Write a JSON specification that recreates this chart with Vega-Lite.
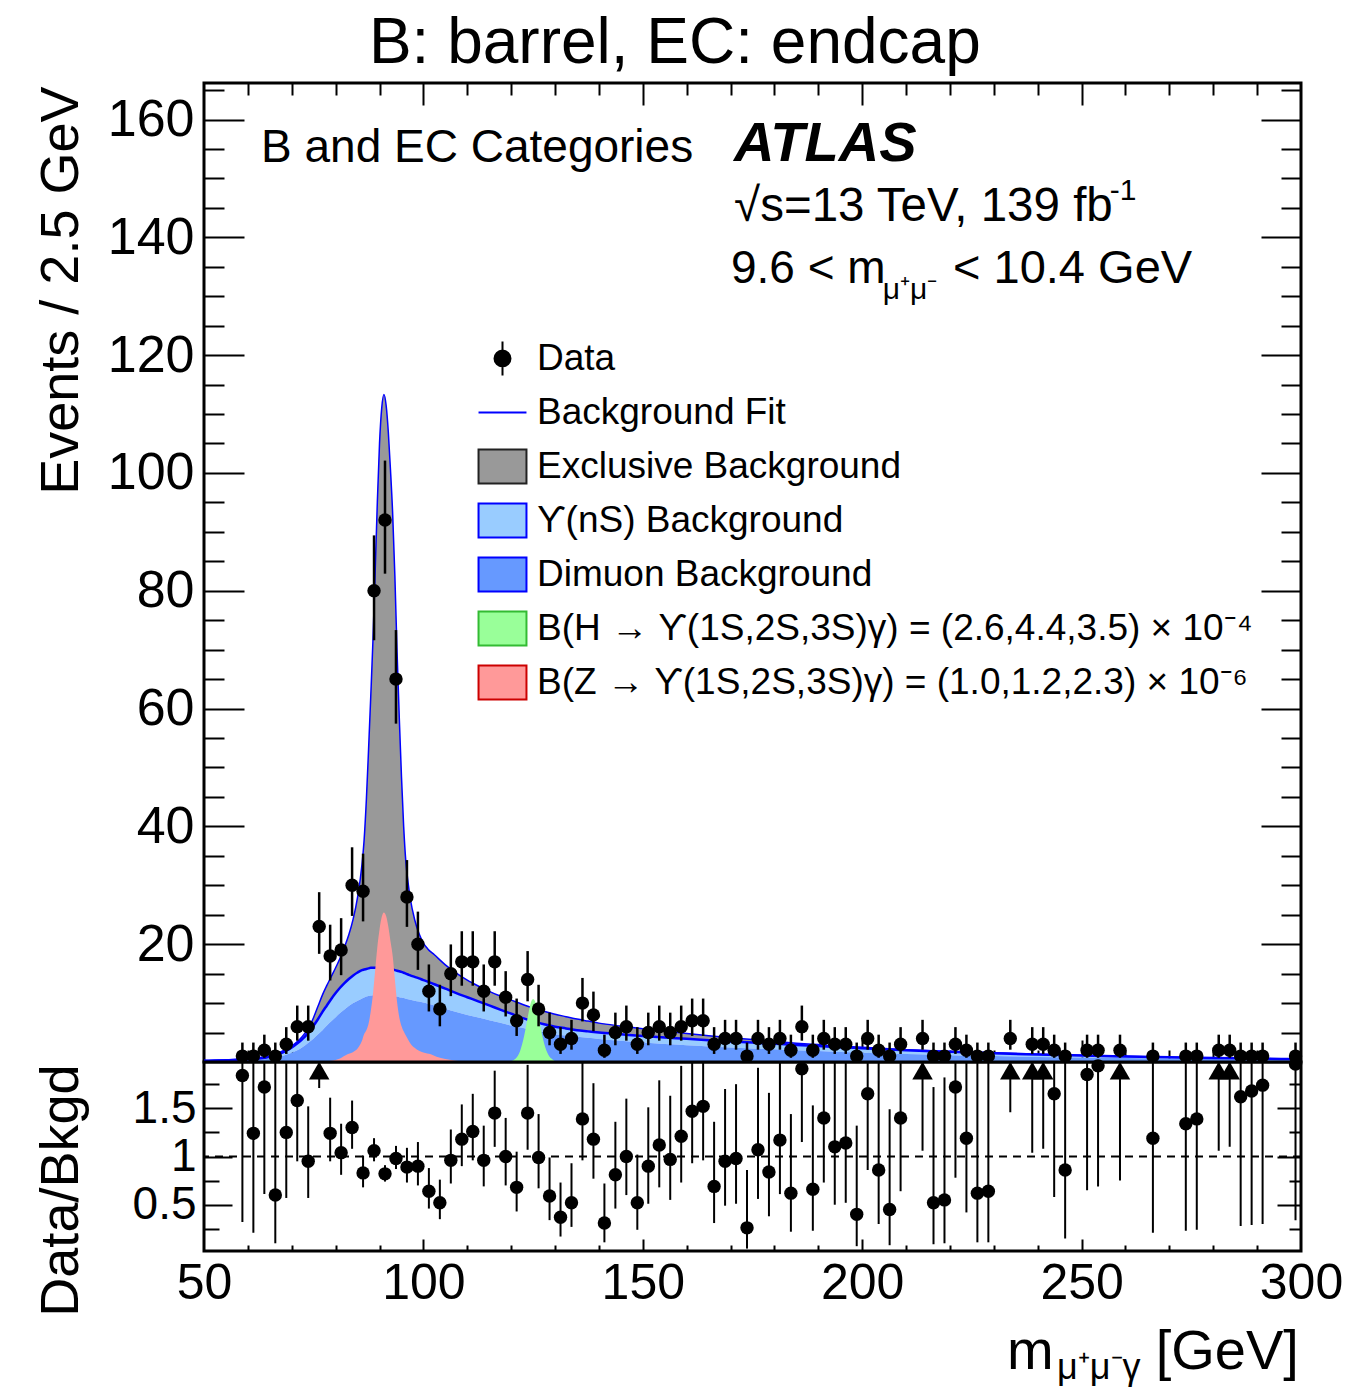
{
  "$schema": "https://vega.github.io/schema/vega-lite/v6.json",
  "background": "white",
  "padding": {"left": 32, "top": 10, "right": 4, "bottom": 0},
  "spacing": 0,
  "bounds": "flush",
  "datasets": {
    "curve": [
      {"m": 50, "total": 0.25, "nonex": 0.2, "dimu": 0.14},
      {"m": 52.5, "total": 0.3, "nonex": 0.24, "dimu": 0.17},
      {"m": 55, "total": 0.36, "nonex": 0.29, "dimu": 0.2},
      {"m": 57.5, "total": 0.45, "nonex": 0.36, "dimu": 0.25},
      {"m": 60, "total": 0.56, "nonex": 0.45, "dimu": 0.31},
      {"m": 62.5, "total": 0.72, "nonex": 0.6, "dimu": 0.41},
      {"m": 65, "total": 1.05, "nonex": 0.9, "dimu": 0.6},
      {"m": 66, "total": 1.3, "nonex": 1.1, "dimu": 0.72},
      {"m": 67, "total": 1.55, "nonex": 1.35, "dimu": 0.88},
      {"m": 68, "total": 1.9, "nonex": 1.65, "dimu": 1.07},
      {"m": 69, "total": 2.2, "nonex": 2.0, "dimu": 1.3},
      {"m": 70, "total": 2.7, "nonex": 2.45, "dimu": 1.58},
      {"m": 71, "total": 3.3, "nonex": 3.0, "dimu": 1.9},
      {"m": 72, "total": 4.0, "nonex": 3.6, "dimu": 2.3},
      {"m": 73, "total": 4.9, "nonex": 4.3, "dimu": 2.8},
      {"m": 74, "total": 6.0, "nonex": 5.2, "dimu": 3.4},
      {"m": 75, "total": 7.6, "nonex": 6.2, "dimu": 4.0},
      {"m": 76, "total": 9.5, "nonex": 7.3, "dimu": 4.7},
      {"m": 77, "total": 11.4, "nonex": 8.5, "dimu": 5.4},
      {"m": 78, "total": 13.0, "nonex": 9.6, "dimu": 6.2},
      {"m": 79, "total": 14.5, "nonex": 10.7, "dimu": 6.9},
      {"m": 80, "total": 16.0, "nonex": 11.7, "dimu": 7.6},
      {"m": 81, "total": 17.6, "nonex": 12.6, "dimu": 8.3},
      {"m": 82, "total": 19.5, "nonex": 13.4, "dimu": 8.9},
      {"m": 83, "total": 21.6, "nonex": 14.1, "dimu": 9.5},
      {"m": 84, "total": 24.3, "nonex": 14.7, "dimu": 10.0},
      {"m": 85, "total": 28.0, "nonex": 15.2, "dimu": 10.4},
      {"m": 86, "total": 33.5, "nonex": 15.6, "dimu": 10.8},
      {"m": 86.5, "total": 37.8, "nonex": 15.7, "dimu": 10.95},
      {"m": 87, "total": 44.5, "nonex": 15.8, "dimu": 11.1},
      {"m": 87.5, "total": 53.0, "nonex": 15.9, "dimu": 11.2},
      {"m": 88, "total": 62.0, "nonex": 16.0, "dimu": 11.3},
      {"m": 88.5, "total": 71.5, "nonex": 16.0, "dimu": 11.35},
      {"m": 89, "total": 83.0, "nonex": 16.0, "dimu": 11.4},
      {"m": 89.5, "total": 95.0, "nonex": 16.0, "dimu": 11.4},
      {"m": 90, "total": 105.0, "nonex": 16.0, "dimu": 11.4},
      {"m": 90.5, "total": 111.0, "nonex": 16.0, "dimu": 11.4},
      {"m": 91, "total": 113.3, "nonex": 15.95, "dimu": 11.4},
      {"m": 91.5, "total": 111.5, "nonex": 15.9, "dimu": 11.35},
      {"m": 92, "total": 107.0, "nonex": 15.85, "dimu": 11.3},
      {"m": 92.5, "total": 100.5, "nonex": 15.8, "dimu": 11.25},
      {"m": 93, "total": 93.0, "nonex": 15.7, "dimu": 11.2},
      {"m": 93.5, "total": 82.5, "nonex": 15.6, "dimu": 11.15},
      {"m": 94, "total": 69.5, "nonex": 15.5, "dimu": 11.1},
      {"m": 94.5, "total": 58.5, "nonex": 15.4, "dimu": 11.0},
      {"m": 95, "total": 48.5, "nonex": 15.3, "dimu": 10.95},
      {"m": 95.5, "total": 40.0, "nonex": 15.15, "dimu": 10.85},
      {"m": 96, "total": 34.0, "nonex": 15.0, "dimu": 10.75},
      {"m": 96.5, "total": 30.5, "nonex": 14.85, "dimu": 10.65},
      {"m": 97, "total": 27.8, "nonex": 14.7, "dimu": 10.55},
      {"m": 98, "total": 24.2, "nonex": 14.45, "dimu": 10.4},
      {"m": 99, "total": 21.8, "nonex": 14.2, "dimu": 10.25},
      {"m": 100, "total": 20.2, "nonex": 13.9, "dimu": 10.1},
      {"m": 101, "total": 19.2, "nonex": 13.65, "dimu": 9.9},
      {"m": 102.5, "total": 18.2, "nonex": 13.2, "dimu": 9.6},
      {"m": 105, "total": 16.5, "nonex": 12.45, "dimu": 9.05},
      {"m": 107.5, "total": 15.1, "nonex": 11.7, "dimu": 8.5},
      {"m": 110, "total": 13.9, "nonex": 11.0, "dimu": 8.0},
      {"m": 112.5, "total": 12.9, "nonex": 10.3, "dimu": 7.55},
      {"m": 115, "total": 12.0, "nonex": 9.6, "dimu": 7.1},
      {"m": 117.5, "total": 11.2, "nonex": 8.9, "dimu": 6.65},
      {"m": 120, "total": 10.5, "nonex": 8.2, "dimu": 6.2},
      {"m": 122.5, "total": 9.8, "nonex": 7.5, "dimu": 5.8},
      {"m": 125, "total": 9.15, "nonex": 6.9, "dimu": 5.4},
      {"m": 127.5, "total": 8.6, "nonex": 6.4, "dimu": 5.05},
      {"m": 130, "total": 8.1, "nonex": 6.0, "dimu": 4.7},
      {"m": 132.5, "total": 7.7, "nonex": 5.7, "dimu": 4.5},
      {"m": 135, "total": 7.3, "nonex": 5.4, "dimu": 4.3},
      {"m": 137.5, "total": 6.95, "nonex": 5.2, "dimu": 4.1},
      {"m": 140, "total": 6.6, "nonex": 5.0, "dimu": 3.9},
      {"m": 145, "total": 6.1, "nonex": 4.7, "dimu": 3.6},
      {"m": 150, "total": 5.65, "nonex": 4.4, "dimu": 3.3},
      {"m": 155, "total": 5.25, "nonex": 4.15, "dimu": 3.05},
      {"m": 160, "total": 4.85, "nonex": 3.95, "dimu": 2.85},
      {"m": 165, "total": 4.45, "nonex": 3.7, "dimu": 2.65},
      {"m": 170, "total": 4.1, "nonex": 3.5, "dimu": 2.45},
      {"m": 175, "total": 3.8, "nonex": 3.3, "dimu": 2.3},
      {"m": 180, "total": 3.5, "nonex": 3.1, "dimu": 2.15},
      {"m": 185, "total": 3.2, "nonex": 2.9, "dimu": 2.0},
      {"m": 190, "total": 2.95, "nonex": 2.7, "dimu": 1.85},
      {"m": 195, "total": 2.7, "nonex": 2.5, "dimu": 1.7},
      {"m": 200, "total": 2.5, "nonex": 2.35, "dimu": 1.58},
      {"m": 210, "total": 2.1, "nonex": 2.0, "dimu": 1.35},
      {"m": 220, "total": 1.8, "nonex": 1.72, "dimu": 1.16},
      {"m": 230, "total": 1.55, "nonex": 1.48, "dimu": 1.0},
      {"m": 240, "total": 1.33, "nonex": 1.28, "dimu": 0.87},
      {"m": 250, "total": 1.13, "nonex": 1.1, "dimu": 0.76},
      {"m": 260, "total": 0.96, "nonex": 0.94, "dimu": 0.66},
      {"m": 270, "total": 0.82, "nonex": 0.8, "dimu": 0.58},
      {"m": 280, "total": 0.7, "nonex": 0.68, "dimu": 0.5},
      {"m": 290, "total": 0.6, "nonex": 0.58, "dimu": 0.44},
      {"m": 300, "total": 0.5, "nonex": 0.49, "dimu": 0.39}
    ],
    "zsig": [
      {"m": 77, "z": 0}, {"m": 79, "z": 0.2}, {"m": 81, "z": 0.6}, {"m": 82.7, "z": 1.3},
      {"m": 84, "z": 1.7}, {"m": 85, "z": 2.3}, {"m": 86, "z": 3.6}, {"m": 86.5, "z": 4.75},
      {"m": 87, "z": 5.4}, {"m": 87.5, "z": 6.5}, {"m": 88, "z": 8.6}, {"m": 88.5, "z": 11.5},
      {"m": 89, "z": 15.5}, {"m": 89.5, "z": 19.5}, {"m": 90, "z": 22.5}, {"m": 90.5, "z": 24.6},
      {"m": 91, "z": 25.4}, {"m": 91.5, "z": 24.8}, {"m": 92, "z": 23.0}, {"m": 92.5, "z": 20.5},
      {"m": 93, "z": 18.0}, {"m": 93.5, "z": 14.0}, {"m": 94, "z": 10.2}, {"m": 94.5, "z": 7.6},
      {"m": 95, "z": 6.1}, {"m": 95.5, "z": 5.2}, {"m": 96, "z": 4.5}, {"m": 97, "z": 3.2},
      {"m": 98, "z": 2.4}, {"m": 100, "z": 1.6}, {"m": 101.7, "z": 1.3}, {"m": 103, "z": 0.9},
      {"m": 105, "z": 0.5}, {"m": 107, "z": 0.25}, {"m": 110, "z": 0}
    ],
    "hsig": [
      {"m": 119.5, "h": 0}, {"m": 120.5, "h": 0.3}, {"m": 121.5, "h": 1.0}, {"m": 122, "h": 1.8},
      {"m": 122.5, "h": 3.0}, {"m": 123, "h": 4.6}, {"m": 123.5, "h": 6.5}, {"m": 124, "h": 8.5},
      {"m": 124.5, "h": 10.1}, {"m": 125, "h": 10.7}, {"m": 125.5, "h": 10.2}, {"m": 126, "h": 8.8},
      {"m": 126.5, "h": 6.7}, {"m": 127, "h": 4.8}, {"m": 127.5, "h": 3.2}, {"m": 128, "h": 2.0},
      {"m": 128.5, "h": 1.2}, {"m": 129.5, "h": 0.4}, {"m": 130.5, "h": 0}
    ],
    "bins": [
      {"m": 58.75, "n": 1, "lo": 0.17, "hi": 3.30, "r": 1.84, "rlo": 0.32, "rhi": 6.07},
      {"m": 61.25, "n": 1, "lo": 0.17, "hi": 3.30, "r": 1.24, "rlo": 0.21, "rhi": 4.09},
      {"m": 63.75, "n": 2, "lo": 0.71, "hi": 4.64, "r": 1.72, "rlo": 0.61, "rhi": 3.99},
      {"m": 66.25, "n": 1, "lo": 0.17, "hi": 3.30, "r": 0.60, "rlo": 0.10, "rhi": 1.98},
      {"m": 68.75, "n": 3, "lo": 1.37, "hi": 5.92, "r": 1.25, "rlo": 0.57, "rhi": 2.46},
      {"m": 71.25, "n": 6, "lo": 3.62, "hi": 9.58, "r": 1.58, "rlo": 0.95, "rhi": 2.53},
      {"m": 73.75, "n": 6, "lo": 3.62, "hi": 9.58, "r": 0.95, "rlo": 0.57, "rhi": 1.52},
      {"m": 76.25, "n": 23, "lo": 18.36, "hi": 28.83, "r": 2.14, "rlo": 1.71, "rhi": 2.68},
      {"m": 78.75, "n": 18, "lo": 13.84, "hi": 23.31, "r": 1.24, "rlo": 0.95, "rhi": 1.61},
      {"m": 81.25, "n": 19, "lo": 14.74, "hi": 24.42, "r": 1.04, "rlo": 0.81, "rhi": 1.34},
      {"m": 83.75, "n": 30, "lo": 24.80, "hi": 36.45, "r": 1.30, "rlo": 1.08, "rhi": 1.58},
      {"m": 86.25, "n": 29, "lo": 23.87, "hi": 35.37, "r": 0.83, "rlo": 0.68, "rhi": 1.01},
      {"m": 88.75, "n": 80, "lo": 71.6, "hi": 89.4, "r": 1.06, "rlo": 0.95, "rhi": 1.19},
      {"m": 91.25, "n": 92, "lo": 82.9, "hi": 102.1, "r": 0.82, "rlo": 0.74, "rhi": 0.91},
      {"m": 93.75, "n": 65, "lo": 57.44, "hi": 73.33, "r": 0.98, "rlo": 0.87, "rhi": 1.11},
      {"m": 96.25, "n": 28, "lo": 22.94, "hi": 34.28, "r": 0.89, "rlo": 0.73, "rhi": 1.09},
      {"m": 98.75, "n": 20, "lo": 15.64, "hi": 25.53, "r": 0.90, "rlo": 0.70, "rhi": 1.15},
      {"m": 101.25, "n": 12, "lo": 8.58, "hi": 16.56, "r": 0.64, "rlo": 0.46, "rhi": 0.88},
      {"m": 103.75, "n": 9, "lo": 6.06, "hi": 13.11, "r": 0.52, "rlo": 0.35, "rhi": 0.76},
      {"m": 106.25, "n": 15, "lo": 11.18, "hi": 19.96, "r": 0.96, "rlo": 0.72, "rhi": 1.28},
      {"m": 108.75, "n": 17, "lo": 12.95, "hi": 22.20, "r": 1.18, "rlo": 0.90, "rhi": 1.54},
      {"m": 111.25, "n": 17, "lo": 12.95, "hi": 22.20, "r": 1.26, "rlo": 0.96, "rhi": 1.65},
      {"m": 113.75, "n": 12, "lo": 8.58, "hi": 16.56, "r": 0.96, "rlo": 0.69, "rhi": 1.32},
      {"m": 116.25, "n": 17, "lo": 12.95, "hi": 22.20, "r": 1.45, "rlo": 1.10, "rhi": 1.89},
      {"m": 118.75, "n": 11, "lo": 7.73, "hi": 15.42, "r": 1.00, "rlo": 0.70, "rhi": 1.40},
      {"m": 121.25, "n": 7, "lo": 4.42, "hi": 10.77, "r": 0.68, "rlo": 0.43, "rhi": 1.05},
      {"m": 123.75, "n": 14, "lo": 10.30, "hi": 18.83, "r": 1.45, "rlo": 1.07, "rhi": 1.95},
      {"m": 126.25, "n": 9, "lo": 6.06, "hi": 13.11, "r": 0.99, "rlo": 0.67, "rhi": 1.44},
      {"m": 128.75, "n": 5, "lo": 2.84, "hi": 8.38, "r": 0.59, "rlo": 0.34, "rhi": 0.99},
      {"m": 131.25, "n": 3, "lo": 1.37, "hi": 5.92, "r": 0.37, "rlo": 0.17, "rhi": 0.73},
      {"m": 133.75, "n": 4, "lo": 2.09, "hi": 7.16, "r": 0.52, "rlo": 0.27, "rhi": 0.93},
      {"m": 136.25, "n": 10, "lo": 6.89, "hi": 14.27, "r": 1.39, "rlo": 0.96, "rhi": 1.98},
      {"m": 138.75, "n": 8, "lo": 5.23, "hi": 11.95, "r": 1.18, "rlo": 0.77, "rhi": 1.76},
      {"m": 141.25, "n": 2, "lo": 0.71, "hi": 4.64, "r": 0.31, "rlo": 0.11, "rhi": 0.72},
      {"m": 143.75, "n": 5, "lo": 2.84, "hi": 8.38, "r": 0.81, "rlo": 0.46, "rhi": 1.36},
      {"m": 146.25, "n": 6, "lo": 3.62, "hi": 9.58, "r": 1.00, "rlo": 0.60, "rhi": 1.60},
      {"m": 148.75, "n": 3, "lo": 1.37, "hi": 5.92, "r": 0.52, "rlo": 0.24, "rhi": 1.02},
      {"m": 151.25, "n": 5, "lo": 2.84, "hi": 8.38, "r": 0.90, "rlo": 0.51, "rhi": 1.51},
      {"m": 153.75, "n": 6, "lo": 3.62, "hi": 9.58, "r": 1.12, "rlo": 0.68, "rhi": 1.79},
      {"m": 156.25, "n": 5, "lo": 2.84, "hi": 8.38, "r": 0.97, "rlo": 0.55, "rhi": 1.63},
      {"m": 158.75, "n": 6, "lo": 3.62, "hi": 9.58, "r": 1.21, "rlo": 0.73, "rhi": 1.94},
      {"m": 161.25, "n": 7, "lo": 4.42, "hi": 10.77, "r": 1.47, "rlo": 0.93, "rhi": 2.26},
      {"m": 163.75, "n": 7, "lo": 4.42, "hi": 10.77, "r": 1.52, "rlo": 0.96, "rhi": 2.34},
      {"m": 166.25, "n": 3, "lo": 1.37, "hi": 5.92, "r": 0.69, "rlo": 0.31, "rhi": 1.36},
      {"m": 168.75, "n": 4, "lo": 2.09, "hi": 7.16, "r": 0.95, "rlo": 0.49, "rhi": 1.70},
      {"m": 171.25, "n": 4, "lo": 2.09, "hi": 7.16, "r": 0.98, "rlo": 0.51, "rhi": 1.75},
      {"m": 173.75, "n": 1, "lo": 0.17, "hi": 3.30, "r": 0.26, "rlo": 0.045, "rhi": 0.86},
      {"m": 176.25, "n": 4, "lo": 2.09, "hi": 7.16, "r": 1.07, "rlo": 0.56, "rhi": 1.92},
      {"m": 178.75, "n": 3, "lo": 1.37, "hi": 5.92, "r": 0.84, "rlo": 0.38, "rhi": 1.66},
      {"m": 181.25, "n": 4, "lo": 2.09, "hi": 7.16, "r": 1.17, "rlo": 0.61, "rhi": 2.09},
      {"m": 183.75, "n": 2, "lo": 0.71, "hi": 4.64, "r": 0.62, "rlo": 0.22, "rhi": 1.44},
      {"m": 186.25, "n": 6, "lo": 3.62, "hi": 9.58, "r": 1.91, "rlo": 1.15, "rhi": 3.05},
      {"m": 188.75, "n": 2, "lo": 0.71, "hi": 4.64, "r": 0.66, "rlo": 0.23, "rhi": 1.53},
      {"m": 191.25, "n": 4, "lo": 2.09, "hi": 7.16, "r": 1.40, "rlo": 0.73, "rhi": 2.51},
      {"m": 193.75, "n": 3, "lo": 1.37, "hi": 5.92, "r": 1.10, "rlo": 0.50, "rhi": 2.17},
      {"m": 196.25, "n": 3, "lo": 1.37, "hi": 5.92, "r": 1.14, "rlo": 0.52, "rhi": 2.25},
      {"m": 198.75, "n": 1, "lo": 0.17, "hi": 3.30, "r": 0.40, "rlo": 0.07, "rhi": 1.32},
      {"m": 201.25, "n": 4, "lo": 2.09, "hi": 7.16, "r": 1.65, "rlo": 0.86, "rhi": 2.95},
      {"m": 203.75, "n": 2, "lo": 0.71, "hi": 4.64, "r": 0.86, "rlo": 0.30, "rhi": 2.00},
      {"m": 206.25, "n": 1, "lo": 0.17, "hi": 3.30, "r": 0.45, "rlo": 0.08, "rhi": 1.49},
      {"m": 208.75, "n": 3, "lo": 1.37, "hi": 5.92, "r": 1.40, "rlo": 0.64, "rhi": 2.76},
      {"m": 213.75, "n": 4, "lo": 2.09, "hi": 7.16, "r": 2.04, "rlo": 1.06, "rhi": 3.65},
      {"m": 216.25, "n": 1, "lo": 0.17, "hi": 3.30, "r": 0.52, "rlo": 0.09, "rhi": 1.72},
      {"m": 218.75, "n": 1, "lo": 0.17, "hi": 3.30, "r": 0.55, "rlo": 0.10, "rhi": 1.82},
      {"m": 221.25, "n": 3, "lo": 1.37, "hi": 5.92, "r": 1.72, "rlo": 0.78, "rhi": 3.39},
      {"m": 223.75, "n": 2, "lo": 0.71, "hi": 4.64, "r": 1.19, "rlo": 0.42, "rhi": 2.76},
      {"m": 226.25, "n": 1, "lo": 0.17, "hi": 3.30, "r": 0.62, "rlo": 0.11, "rhi": 2.05},
      {"m": 228.75, "n": 1, "lo": 0.17, "hi": 3.30, "r": 0.64, "rlo": 0.11, "rhi": 2.11},
      {"m": 233.75, "n": 4, "lo": 2.09, "hi": 7.16, "r": 2.81, "rlo": 1.46, "rhi": 5.03},
      {"m": 238.75, "n": 3, "lo": 1.37, "hi": 5.92, "r": 2.28, "rlo": 1.04, "rhi": 4.49},
      {"m": 241.25, "n": 3, "lo": 1.37, "hi": 5.92, "r": 2.37, "rlo": 1.08, "rhi": 4.67},
      {"m": 243.75, "n": 2, "lo": 0.71, "hi": 4.64, "r": 1.65, "rlo": 0.58, "rhi": 3.83},
      {"m": 246.25, "n": 1, "lo": 0.17, "hi": 3.30, "r": 0.86, "rlo": 0.15, "rhi": 2.84},
      {"m": 251.25, "n": 2, "lo": 0.71, "hi": 4.64, "r": 1.85, "rlo": 0.65, "rhi": 4.29},
      {"m": 253.75, "n": 2, "lo": 0.71, "hi": 4.64, "r": 1.94, "rlo": 0.69, "rhi": 4.50},
      {"m": 258.75, "n": 2, "lo": 0.71, "hi": 4.64, "r": 2.12, "rlo": 0.75, "rhi": 4.92},
      {"m": 266.25, "n": 1, "lo": 0.17, "hi": 3.30, "r": 1.19, "rlo": 0.21, "rhi": 3.93},
      {"m": 273.75, "n": 1, "lo": 0.17, "hi": 3.30, "r": 1.34, "rlo": 0.23, "rhi": 4.42},
      {"m": 276.25, "n": 1, "lo": 0.17, "hi": 3.30, "r": 1.39, "rlo": 0.24, "rhi": 4.59},
      {"m": 281.25, "n": 2, "lo": 0.71, "hi": 4.64, "r": 3.00, "rlo": 1.06, "rhi": 6.96},
      {"m": 283.75, "n": 2, "lo": 0.71, "hi": 4.64, "r": 3.10, "rlo": 1.10, "rhi": 7.19},
      {"m": 286.25, "n": 1, "lo": 0.17, "hi": 3.30, "r": 1.62, "rlo": 0.28, "rhi": 5.35},
      {"m": 288.75, "n": 1, "lo": 0.17, "hi": 3.30, "r": 1.68, "rlo": 0.29, "rhi": 5.54},
      {"m": 291.25, "n": 1, "lo": 0.17, "hi": 3.30, "r": 1.74, "rlo": 0.30, "rhi": 5.74},
      {"m": 298.75, "n": 1, "lo": 0.17, "hi": 3.30, "r": 1.96, "rlo": 0.34, "rhi": 6.47}
    ]
  },
  "vconcat": [
    {
      "width": 1097,
      "height": 979,
      "resolve": {"axis": {"x": "independent", "y": "independent"}},
      "layer": [
        {
          "data": {"name": "curve"},
          "mark": {"type": "area", "color": "#999999", "interpolate": "monotone"},
          "encoding": {
            "x": {"field": "m", "type": "quantitative",
              "scale": {"domain": [50, 300], "nice": false, "zero": false},
              "axis": {"orient": "bottom", "title": null, "labels": false, "domain": false, "grid": false,
                "values": [60,70,80,90,100,110,120,130,140,150,160,170,180,190,200,210,220,230,240,250,260,270,280,290],
                "tickSize": {"condition": {"test": "datum.value % 50 === 0", "value": -22}, "value": -12}}},
            "y": {"field": "nonex", "type": "quantitative",
              "scale": {"domain": [0, 166.2], "nice": false, "zero": false},
              "axis": {"orient": "left", "ticks": false, "domain": false, "grid": false,
                "values": [20,40,60,80,100,120,140,160], "format": "d",
                "labelPadding": 10, "labelFontSize": 52, "labelOverlap": false,
                "title": "Events / 2.5 GeV", "titleFontSize": 54, "titleX": -127, "titleY": 3,
                "titleAlign": "right", "titleAngle": 270, "titleBaseline": "alphabetic"}},
            "y2": {"field": "total"}
          }
        },
        {
          "data": {"name": "curve"},
          "mark": {"type": "area", "color": "#99ccff", "interpolate": "monotone"},
          "encoding": {
            "x": {"field": "m", "type": "quantitative",
              "axis": {"orient": "top", "title": null, "labels": false, "domain": false, "grid": false,
                "values": [60,70,80,90,100,110,120,130,140,150,160,170,180,190,200,210,220,230,240,250,260,270,280,290],
                "tickSize": {"condition": {"test": "datum.value % 50 === 0", "value": -22}, "value": -12}}},
            "y": {"field": "dimu", "type": "quantitative",
              "axis": {"orient": "left", "title": null, "labels": false, "domain": false, "grid": false,
                "values": [5,10,15,20,25,30,35,40,45,50,55,60,65,70,75,80,85,90,95,100,105,110,115,120,125,130,135,140,145,150,155,160,165],
                "tickSize": {"condition": {"test": "datum.value % 20 === 0", "value": -40}, "value": -20}}},
            "y2": {"field": "nonex"}
          }
        },
        {
          "data": {"name": "curve"},
          "mark": {"type": "area", "color": "#6699ff", "interpolate": "monotone"},
          "encoding": {
            "x": {"field": "m", "type": "quantitative", "axis": null},
            "y": {"field": "dimu", "type": "quantitative", "stack": null,
              "axis": {"orient": "right", "title": null, "labels": false, "domain": false, "grid": false,
                "values": [5,10,15,20,25,30,35,40,45,50,55,60,65,70,75,80,85,90,95,100,105,110,115,120,125,130,135,140,145,150,155,160,165],
                "tickSize": {"condition": {"test": "datum.value % 20 === 0", "value": -40}, "value": -20}}}
          }
        },
        {
          "data": {"name": "curve"},
          "mark": {"type": "line", "color": "#0000ff", "strokeWidth": 1.5, "interpolate": "monotone"},
          "encoding": {
            "x": {"field": "m", "type": "quantitative", "axis": null},
            "y": {"field": "total", "type": "quantitative", "axis": null}
          }
        },
        {
          "data": {"name": "curve"},
          "mark": {"type": "line", "color": "#0000ff", "strokeWidth": 2.5, "interpolate": "monotone"},
          "encoding": {
            "x": {"field": "m", "type": "quantitative", "axis": null},
            "y": {"field": "nonex", "type": "quantitative", "axis": null}
          }
        },
        {
          "data": {"name": "zsig"},
          "mark": {"type": "area", "color": "#ff9999", "interpolate": "monotone"},
          "encoding": {
            "x": {"field": "m", "type": "quantitative", "axis": null},
            "y": {"field": "z", "type": "quantitative", "stack": null, "axis": null}
          }
        },
        {
          "data": {"name": "hsig"},
          "mark": {"type": "area", "color": "#99ff99", "interpolate": "monotone"},
          "encoding": {
            "x": {"field": "m", "type": "quantitative", "axis": null},
            "y": {"field": "h", "type": "quantitative", "stack": null, "axis": null}
          }
        },
        {
          "data": {"name": "bins"},
          "mark": {"type": "rule", "color": "black", "strokeWidth": 2.5},
          "encoding": {
            "x": {"field": "m", "type": "quantitative", "axis": null},
            "y": {"field": "lo", "type": "quantitative", "axis": null},
            "y2": {"field": "hi"}
          }
        },
        {
          "data": {"name": "bins"},
          "mark": {"type": "point", "shape": "circle", "filled": true, "color": "black", "opacity": 1, "size": 180},
          "encoding": {
            "x": {"field": "m", "type": "quantitative", "axis": null},
            "y": {"field": "n", "type": "quantitative", "axis": null}
          }
        },
        {
          "data": {"values": [{"entry": "Data"}]},
          "transform": [{"filter": "false"}],
          "mark": {"type": "point", "filled": true, "opacity": 1, "strokeWidth": 2},
          "encoding": {
            "color": {"field": "entry", "type": "nominal",
              "scale": {"domain": ["Data", "Background Fit", "Exclusive Background", "ϒ(nS) Background", "Dimuon Background", "B(H → ϒ(1S,2S,3S)γ) = (2.6,4.4,3.5) × 10⁻⁴", "B(Z → ϒ(1S,2S,3S)γ) = (1.0,1.2,2.3) × 10⁻⁶"],
                "range": ["black", "#0000ff", "#999999", "#99ccff", "#6699ff", "#99ff99", "#ff9999"]},
              "legend": {"title": null}},
            "shape": {"field": "entry", "type": "nominal",
              "scale": {"domain": ["Data", "Background Fit", "Exclusive Background", "ϒ(nS) Background", "Dimuon Background", "B(H → ϒ(1S,2S,3S)γ) = (2.6,4.4,3.5) × 10⁻⁴", "B(Z → ϒ(1S,2S,3S)γ) = (1.0,1.2,2.3) × 10⁻⁶"],
                "range": ["M0,-1V1M-0.47,0A0.47,0.47,0,1,0,0.47,0A0.47,0.47,0,1,0,-0.47,0Z", "M-1.41,0H1.41", "M-1.41,-1H1.41V1H-1.41Z", "M-1.41,-1H1.41V1H-1.41Z", "M-1.41,-1H1.41V1H-1.41Z", "M-1.41,-1H1.41V1H-1.41Z", "M-1.41,-1H1.41V1H-1.41Z"]},
              "legend": {"title": null}},
            "stroke": {"field": "entry", "type": "nominal",
              "scale": {"domain": ["Data", "Background Fit", "Exclusive Background", "ϒ(nS) Background", "Dimuon Background", "B(H → ϒ(1S,2S,3S)γ) = (2.6,4.4,3.5) × 10⁻⁴", "B(Z → ϒ(1S,2S,3S)γ) = (1.0,1.2,2.3) × 10⁻⁶"],
                "range": ["black", "#0000ff", "#222222", "#0000ff", "#0000ff", "#33bb33", "#cc0000"]},
              "legend": {"title": null}}
          }
        },
        {
          "data": {"values": [{}]},
          "mark": {"type": "text", "text": "B: barrel, EC: endcap", "fontSize": 64, "align": "center", "baseline": "alphabetic"},
          "encoding": {"x": {"datum": 157.3, "axis": null}, "y": {"datum": 169.6, "axis": null}}
        },
        {
          "data": {"values": [{}]},
          "mark": {"type": "text", "text": "B and EC Categories", "fontSize": 46, "align": "left", "baseline": "alphabetic"},
          "encoding": {"x": {"datum": 63.0, "axis": null}, "y": {"datum": 152.8, "axis": null}}
        },
        {
          "data": {"values": [{}]},
          "mark": {"type": "text", "text": "ATLAS", "fontSize": 56, "fontWeight": "bold", "fontStyle": "italic", "align": "left", "baseline": "alphabetic"},
          "encoding": {"x": {"datum": 170.8, "axis": null}, "y": {"datum": 153.0, "axis": null}}
        },
        {
          "data": {"values": [{}]},
          "mark": {"type": "text", "text": "√s=13 TeV, 139 fb", "fontSize": 47.5, "align": "left", "baseline": "alphabetic"},
          "encoding": {"x": {"datum": 170.8, "axis": null}, "y": {"datum": 142.8, "axis": null}}
        },
        {
          "data": {"values": [{}]},
          "mark": {"type": "text", "text": "-1", "fontSize": 30, "align": "left", "baseline": "alphabetic"},
          "encoding": {"x": {"datum": 256.4, "axis": null}, "y": {"datum": 146.4, "axis": null}}
        },
        {
          "data": {"values": [{}]},
          "mark": {"type": "text", "text": "9.6 < m", "fontSize": 46, "align": "left", "baseline": "alphabetic"},
          "encoding": {"x": {"datum": 170.1, "axis": null}, "y": {"datum": 132.3, "axis": null}}
        },
        {
          "data": {"values": [{}]},
          "mark": {"type": "text", "text": "μ⁺μ⁻", "fontSize": 30, "align": "left", "baseline": "alphabetic"},
          "encoding": {"x": {"datum": 204.7, "axis": null}, "y": {"datum": 129.6, "axis": null}}
        },
        {
          "data": {"values": [{}]},
          "mark": {"type": "text", "text": "< 10.4 GeV", "fontSize": 47, "align": "left", "baseline": "alphabetic"},
          "encoding": {"x": {"datum": 220.7, "axis": null}, "y": {"datum": 132.3, "axis": null}}
        }
      ]
    },
    {
      "width": 1097,
      "height": 189,
      "resolve": {"axis": {"x": "independent", "y": "independent"}},
      "layer": [
        {
          "data": {"values": [{}]},
          "mark": {"type": "rule", "color": "black", "strokeWidth": 2, "strokeDash": [8, 6]},
          "encoding": {"y": {"datum": 1, "axis": null}}
        },
        {
          "data": {"name": "bins"},
          "mark": {"type": "rule", "color": "black", "strokeWidth": 2, "clip": true},
          "encoding": {
            "x": {"field": "m", "type": "quantitative",
              "scale": {"domain": [50, 300], "nice": false, "zero": false},
              "axis": {"orient": "bottom", "ticks": false, "domain": false, "grid": false, "title": null,
                "values": [50, 100, 150, 200, 250, 300], "format": "d", "labelFontSize": 50, "labelPadding": 7,
                "labelFlush": false, "labelOverlap": false}},
            "y": {"field": "rlo", "type": "quantitative",
              "scale": {"domain": [0.02, 1.98], "nice": false, "zero": false},
              "axis": {"orient": "left", "ticks": false, "domain": false, "grid": false,
                "values": [0.5, 1, 1.5], "format": "~g", "labelFontSize": 46, "labelPadding": 8, "labelOverlap": false,
                "title": "Data/Bkgd", "titleFontSize": 54, "titleX": -127, "titleY": 2,
                "titleAlign": "right", "titleAngle": 270, "titleBaseline": "alphabetic"}},
            "y2": {"field": "rhi"}
          }
        },
        {
          "data": {"name": "bins"},
          "transform": [{"filter": "datum.r <= 1.98"}],
          "mark": {"type": "point", "shape": "circle", "filled": true, "color": "black", "opacity": 1, "size": 180},
          "encoding": {
            "x": {"field": "m", "type": "quantitative",
              "axis": {"orient": "bottom", "title": null, "labels": false, "domain": false, "grid": false,
                "values": [60,70,80,90,100,110,120,130,140,150,160,170,180,190,200,210,220,230,240,250,260,270,280,290],
                "tickSize": {"condition": {"test": "datum.value % 50 === 0", "value": -12}, "value": -6}}},
            "y": {"field": "r", "type": "quantitative",
              "axis": {"orient": "left", "title": null, "labels": false, "domain": false, "grid": false,
                "values": [0.25, 0.5, 0.75, 1, 1.25, 1.5, 1.75],
                "tickSize": {"condition": {"test": "datum.value % 0.5 === 0", "value": -28}, "value": -15}}}
          }
        },
        {
          "data": {"name": "bins"},
          "transform": [{"filter": "datum.r > 1.98"}],
          "mark": {"type": "point", "shape": "triangle-up", "filled": true, "color": "black", "opacity": 1, "size": 420},
          "encoding": {
            "x": {"field": "m", "type": "quantitative", "axis": null},
            "y": {"datum": 1.89,
              "axis": {"orient": "right", "title": null, "labels": false, "domain": false, "grid": false,
                "values": [0.25, 0.5, 0.75, 1, 1.25, 1.5, 1.75],
                "tickSize": {"condition": {"test": "datum.value % 0.5 === 0", "value": -24}, "value": -12}}}
          }
        },
        {
          "data": {"values": [{}]},
          "mark": {"type": "text", "text": "m", "fontSize": 56, "align": "left", "baseline": "alphabetic"},
          "encoding": {"x": {"datum": 233.0, "axis": null}, "y": {"datum": -1.2, "axis": null}}
        },
        {
          "data": {"values": [{}]},
          "mark": {"type": "text", "text": "μ⁺μ⁻γ", "fontSize": 36, "align": "left", "baseline": "alphabetic"},
          "encoding": {"x": {"datum": 244.4, "axis": null}, "y": {"datum": -1.31, "axis": null}}
        },
        {
          "data": {"values": [{}]},
          "mark": {"type": "text", "text": "[GeV]", "fontSize": 56, "align": "right", "baseline": "alphabetic"},
          "encoding": {"x": {"datum": 299.5, "axis": null}, "y": {"datum": -1.2, "axis": null}}
        }
      ]
    }
  ],
  "config": {
    "view": {"stroke": "black", "strokeWidth": 3},
    "font": "Liberation Sans",
    "axis": {"grid": false, "domain": false, "tickColor": "black", "tickWidth": 2, "labelColor": "black", "titleColor": "black",
      "labelFont": "Liberation Sans", "titleFont": "Liberation Sans", "titleFontWeight": "normal", "labelFontSize": 50, "titleFontSize": 54},
    "text": {"font": "Liberation Sans", "color": "black"},
    "legend": {"orient": "none", "legendX": 280, "legendY": 257, "padding": 0, "labelFont": "Liberation Sans", "labelFontSize": 37,
      "labelColor": "black", "labelLimit": 2000, "symbolSize": 1156, "rowPadding": 11, "gridAlign": "all", "labelOffset": 16, "symbolStrokeWidth": 2,
      "symbolType": "square"}
  }
}
